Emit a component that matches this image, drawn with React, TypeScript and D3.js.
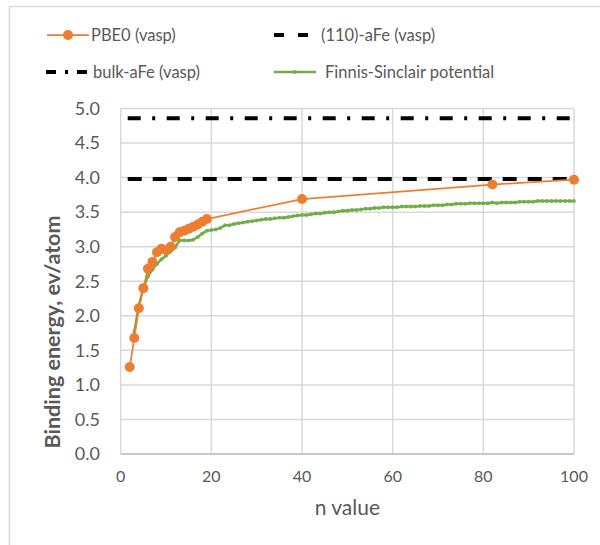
import React, { useEffect, useRef } from "react";
import * as d3 from "d3";

// PBE0 (vasp) calculated binding energies
const pbeN = [2, 3, 4, 5, 6, 7, 8, 9, 10, 11, 12, 13, 14, 15, 16, 17, 18, 19, 40, 82, 100];
const pbeE = [1.26, 1.68, 2.11, 2.40, 2.68, 2.78, 2.92, 2.97, 2.95, 3.00, 3.14, 3.21, 3.23, 3.26, 3.29, 3.32, 3.36, 3.40, 3.69, 3.90, 3.97];

// Finnis-Sinclair potential, n = 3 .. 100
const fsStartN = 3;
const fsE = [
  1.77, 2.15, 2.40, 2.57, 2.67, 2.75, 2.82, 2.87, 2.93, 2.99,
  3.09, 3.09, 3.09, 3.10, 3.14, 3.19, 3.23, 3.24, 3.25, 3.27,
  3.31, 3.31, 3.33, 3.34, 3.35, 3.36, 3.37, 3.38, 3.39, 3.40,
  3.40, 3.41, 3.42, 3.42, 3.43, 3.44, 3.45, 3.46, 3.46, 3.47,
  3.48, 3.48, 3.49, 3.50, 3.50, 3.51, 3.52, 3.52, 3.53, 3.53,
  3.54, 3.55, 3.55, 3.56, 3.56, 3.57, 3.57, 3.57, 3.57, 3.58,
  3.58, 3.58, 3.58, 3.59, 3.59, 3.59, 3.60, 3.60, 3.60, 3.61,
  3.61, 3.62, 3.62, 3.62, 3.63, 3.63, 3.63, 3.63, 3.63, 3.64,
  3.63, 3.64, 3.64, 3.64, 3.64, 3.65, 3.65, 3.65, 3.65, 3.66,
  3.66, 3.66, 3.66, 3.66, 3.66, 3.66, 3.66, 3.66,
];

// Reference levels
const surface110 = 3.98;
const bulkFe = 4.86;

const xTicks = [0, 20, 40, 60, 80, 100];
const yTicks = [0, 0.5, 1, 1.5, 2, 2.5, 3, 3.5, 4, 4.5, 5];

const legendLabels = ["PBE0 (vasp)", "(110)-aFe (vasp)", "bulk-aFe (vasp)", "Finnis-Sinclair potential"];

const ORANGE = "#ED7D31";
const GREEN = "#70AD47";
const GRID = "#D9D9D9";
const TEXT = "#595959";
const FONT = "Lato, 'Open Sans', sans-serif";

export default function App() {
  const ref = useRef<SVGSVGElement>(null);

  useEffect(() => {
    const svg = d3.select(ref.current);
    svg.selectAll("*").remove();

    const left = 120.7, right = 574, top = 108.5, bottom = 454;
    const x = d3.scaleLinear().domain([0, 100]).range([left, right]);
    const y = d3.scaleLinear().domain([0, 5]).range([bottom, top]);

    // chart frame
    svg.append("rect").attr("x", 9.5).attr("y", 6.5).attr("width", 620).attr("height", 560)
      .attr("fill", "#fff").attr("stroke", GRID).attr("stroke-width", 1.5);

    // gridlines
    const g = svg.append("g");
    g.selectAll("line.h").data(yTicks).join("line")
      .attr("x1", left).attr("x2", right)
      .attr("y1", (d) => y(d)).attr("y2", (d) => y(d))
      .attr("stroke", GRID).attr("stroke-width", 1.5);
    g.selectAll("line.v").data(xTicks).join("line")
      .attr("y1", top).attr("y2", bottom)
      .attr("x1", (d) => x(d)).attr("x2", (d) => x(d))
      .attr("stroke", GRID).attr("stroke-width", 1.5);
    g.append("line").attr("x1", left).attr("x2", right).attr("y1", bottom).attr("y2", bottom)
      .attr("stroke", "#BFBFBF").attr("stroke-width", 1.5);

    // tick labels
    svg.append("g").selectAll("text").data(yTicks).join("text")
      .attr("x", 100).attr("y", (d) => y(d)).attr("dy", "0.35em")
      .attr("text-anchor", "end").attr("font-family", FONT).attr("font-size", 18)
      .attr("fill", TEXT).text((d) => d3.format(".1f")(d));
    svg.append("g").selectAll("text").data(xTicks).join("text")
      .attr("x", (d) => x(d)).attr("y", 476).attr("dy", "0.35em")
      .attr("text-anchor", "middle").attr("font-family", FONT).attr("font-size", 16)
      .attr("fill", TEXT).text((d) => String(d));

    // axis titles
    svg.append("text").attr("x", (left + right) / 2).attr("y", 508).attr("dy", "0.35em")
      .attr("text-anchor", "middle").attr("font-family", FONT).attr("font-size", 21)
      .attr("fill", TEXT).text("n value");
    svg.append("text").attr("transform", "translate(52,332) rotate(-90)").attr("dy", "0.35em")
      .attr("text-anchor", "middle").attr("font-family", FONT).attr("font-size", 21.5)
      .attr("font-weight", "bold").attr("fill", TEXT).text("Binding energy, ev/atom");

    // reference levels
    svg.append("line").attr("x1", x(0)).attr("x2", x(100))
      .attr("y1", y(bulkFe)).attr("y2", y(bulkFe))
      .attr("stroke", "#000").attr("stroke-width", 4)
      .attr("stroke-dasharray", "13 11.5 3 11.5").attr("stroke-dashoffset", -7);
    svg.append("line").attr("x1", x(0)).attr("x2", x(100))
      .attr("y1", y(surface110)).attr("y2", y(surface110))
      .attr("stroke", "#000").attr("stroke-width", 4)
      .attr("stroke-dasharray", "14 11").attr("stroke-dashoffset", -7);

    // Finnis-Sinclair series
    const fsData = fsE.map((e, i) => [fsStartN + i, e] as [number, number]);
    const line = d3.line<[number, number]>().x((d) => x(d[0])).y((d) => y(d[1]));
    svg.append("path").attr("d", line(fsData)).attr("fill", "none")
      .attr("stroke", GREEN).attr("stroke-width", 2.5).attr("stroke-linejoin", "round");
    svg.append("g").selectAll("circle").data(fsData).join("circle")
      .attr("cx", (d) => x(d[0])).attr("cy", (d) => y(d[1])).attr("r", 2)
      .attr("fill", GREEN).attr("opacity", 0.85);

    // PBE0 series
    const pbeData = pbeN.map((n, i) => [n, pbeE[i]] as [number, number]);
    svg.append("path").attr("d", line(pbeData)).attr("fill", "none")
      .attr("stroke", ORANGE).attr("stroke-width", 1.75).attr("stroke-linejoin", "round");
    svg.append("g").selectAll("circle").data(pbeData).join("circle")
      .attr("cx", (d) => x(d[0])).attr("cy", (d) => y(d[1])).attr("r", 5)
      .attr("fill", ORANGE);

    // legend
    const lg = svg.append("g").attr("font-family", FONT).attr("font-size", 16.5).attr("fill", TEXT);
    const r1 = 35, r2 = 72;
    lg.append("line").attr("x1", 47).attr("x2", 89).attr("y1", r1).attr("y2", r1)
      .attr("stroke", ORANGE).attr("stroke-width", 1.75);
    lg.append("circle").attr("cx", 68).attr("cy", r1).attr("r", 5).attr("fill", ORANGE);
    lg.append("text").attr("x", 91).attr("y", r1).attr("dy", "0.35em").text(legendLabels[0]);

    lg.append("line").attr("x1", 274).attr("x2", 308).attr("y1", r1).attr("y2", r1)
      .attr("stroke", "#000").attr("stroke-width", 4).attr("stroke-dasharray", "10 14");
    lg.append("text").attr("x", 321).attr("y", r1).attr("dy", "0.35em").text(legendLabels[1]);

    lg.append("line").attr("x1", 46).attr("x2", 90).attr("y1", r2).attr("y2", r2)
      .attr("stroke", "#000").attr("stroke-width", 4).attr("stroke-dasharray", "10 9 3 9 10");
    lg.append("text").attr("x", 93).attr("y", r2).attr("dy", "0.35em").text(legendLabels[2]);

    lg.append("line").attr("x1", 274).attr("x2", 316).attr("y1", r2).attr("y2", r2)
      .attr("stroke", GREEN).attr("stroke-width", 2.5);
    lg.append("circle").attr("cx", 295).attr("cy", r2).attr("r", 2).attr("fill", GREEN);
    lg.append("text").attr("x", 325).attr("y", r2).attr("dy", "0.35em").text(legendLabels[3]);
  }, []);

  return (
    <svg
      ref={ref}
      width={600}
      height={545}
      style={{ position: "absolute", left: 0, top: 0, background: "#fff" }}
    />
  );
}
